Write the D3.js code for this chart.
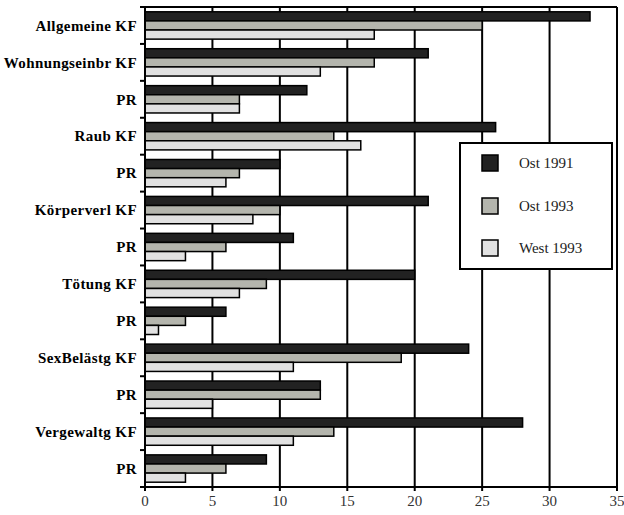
<!DOCTYPE html>
<html><head><meta charset="utf-8">
<script src="https://cdn.jsdelivr.net/npm/d3@7"></script>
<style>body{margin:0;background:#fff}svg{display:block}text{font-family:'Liberation Serif','Times New Roman',Times,'DejaVu Serif'}</style>
</head><body>
<svg id="c" width="624" height="515"></svg>
<script>
const categories = ["Allgemeine KF","Wohnungseinbr KF","PR","Raub KF","PR","Körperverl KF","PR","Tötung KF","PR","SexBelästg KF","PR","Vergewaltg KF","PR"];
const seriesNames = ["Ost 1991","Ost 1993","West 1993"];
const ost1991 = [33,21,12,26,10,21,11,20,6,24,13,28,9];
const ost1993 = [25,17,7,14,7,10,6,9,3,19,13,14,6];
const west1993 = [17,13,7,16,6,8,3,7,1,11,5,11,3];
const xTicks = [0,5,10,15,20,25,30,35];
const colors = ["#222222","#b4b5ad","#e1e1e1"];

const svg = d3.select("#c");
const pL = 145, pR = 617, pT = 7, pB = 487;
const x = d3.scaleLinear().domain([0,35]).range([pL,pR]);
const idx = categories.map((d,i)=>i);
const y = d3.scaleBand().domain(idx).range([pT,pB]).paddingInner(0.26).paddingOuter(0.13);
const ys = d3.scaleBand().domain([0,1,2]).range([0,y.bandwidth()]);
const series = [ost1991, ost1993, west1993];

// grid
svg.append("g").selectAll("line").data(xTicks.slice(1)).join("line")
  .attr("x1",d=>x(d)).attr("x2",d=>x(d)).attr("y1",pT).attr("y2",pB)
  .attr("stroke","#000").attr("stroke-width",2);
svg.append("line").attr("x1",pL).attr("x2",pR).attr("y1",pT).attr("y2",pT).attr("stroke","#000").attr("stroke-width",2);

// bars
const g = svg.append("g");
series.forEach((vals,s)=>{
  g.append("g").selectAll("rect").data(vals).join("rect")
    .attr("x",x(0)).attr("y",(d,i)=>y(i)+ys(s))
    .attr("width",d=>x(d)-x(0)).attr("height",ys.bandwidth())
    .attr("fill",colors[s]).attr("stroke","#000").attr("stroke-width",1.5);
});

// y axis
const bounds = d3.range(categories.length+1).map(i=>pT + i*(pB-pT)/categories.length);
svg.append("line").attr("x1",pL).attr("x2",pL).attr("y1",pT).attr("y2",pB).attr("stroke","#000").attr("stroke-width",2);
svg.append("g").selectAll("line").data(bounds).join("line")
  .attr("x1",pL-5).attr("x2",pL).attr("y1",d=>d).attr("y2",d=>d).attr("stroke","#000").attr("stroke-width",2);
svg.append("g").selectAll("text").data(categories).join("text")
  .attr("x",137).attr("y",(d,i)=>y(i)+y.bandwidth()/2)
  .attr("dy","0.35em").attr("text-anchor","end")
  .attr("font-weight","bold").attr("font-size",15).attr("letter-spacing",0.4)
  .text(d=>d);

// x axis
svg.append("line").attr("x1",pL).attr("x2",pR).attr("y1",pB).attr("y2",pB).attr("stroke","#000").attr("stroke-width",2);
svg.append("g").selectAll("line").data(xTicks).join("line")
  .attr("x1",d=>x(d)).attr("x2",d=>x(d)).attr("y1",pB).attr("y2",pB+4).attr("stroke","#000").attr("stroke-width",2);
svg.append("g").selectAll("text").data(xTicks).join("text")
  .attr("x",d=>x(d)).attr("y",506).attr("text-anchor","middle")
  .attr("font-size",15).attr("fill","#333")
  .text(d=>d);

// legend
const lg = svg.append("g");
lg.append("rect").attr("x",460).attr("y",143).attr("width",152).attr("height",126)
  .attr("fill","#fff").attr("stroke","#000").attr("stroke-width",2);
const ly = [163,206,248];
seriesNames.forEach((n,i)=>{
  lg.append("rect").attr("x",482).attr("y",ly[i]-8).attr("width",16).attr("height",16)
    .attr("fill",colors[i]).attr("stroke","#000").attr("stroke-width",1.5);
  lg.append("text").attr("x",519).attr("y",ly[i]).attr("dy","0.35em")
    .attr("font-size",15).attr("fill","#222").text(n);
});
</script>
</body></html>
